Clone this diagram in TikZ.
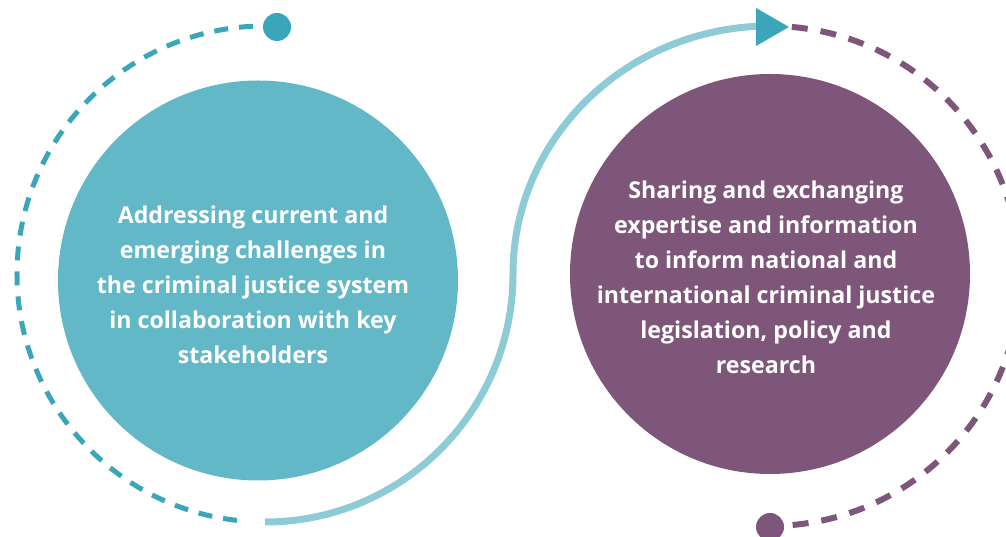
\documentclass[tikz,border=0pt]{standalone}
\usepackage{fontspec}
\setmainfont{Open Sans}
\definecolor{tealdot}{HTML}{3BA6BA}
\definecolor{tealfill}{HTML}{62B8C7}
\definecolor{lightline}{HTML}{8DCBD6}
\definecolor{plum}{HTML}{7D5679}
\tikzset{
  dashline/.style={line width=5pt, dash pattern=on 14pt off 11pt},
  dashlinebig/.style={line width=6pt, dash pattern=on 16pt off 13pt},
  bigcircle/.style={circle, minimum size=400pt, inner sep=0pt, text=white,
    font=\bfseries\fontsize{23.2}{35}\selectfont, align=center},
}
\begin{document}
\begin{tikzpicture}[x=1pt,y=1pt]
\useasboundingbox (0,0) rectangle (1006,537);
% circles
\node[bigcircle, fill=tealfill] (lc) at (258,256.5) {};
\node[bigcircle, fill=plum] (rc) at (770,263) {};
% left dashed arc
\draw[dashline, tealdot] (265,263) ++(87:248) arc[start angle=87, end angle=266, radius=248];
\fill[tealdot] (277,510) circle[radius=14];
% right dashed arc
\draw[dashlinebig, plum] (770,261) ++(85:250) arc[start angle=85, end angle=-87, radius=250];
\fill[plum] (770,10) circle[radius=14];
% solid S-curve
\draw[lightline, line width=7pt] (265,15) arc[start angle=270, end angle=360, radius=248]
  arc[start angle=180, end angle=93, x radius=257, y radius=248];
\fill[tealdot] (756,529) -- (789,510) -- (756,491) -- cycle;
% texts
\node[bigcircle] (lt) at (253,252) {Addressing current and\\emerging challenges in\\the criminal justice system\\in collaboration with key\\stakeholders};
\node[bigcircle] (rt) at (766,260) {Sharing and exchanging\\expertise and information\\to inform national and\\international criminal justice\\legislation, policy and\\research};
\end{tikzpicture}
\end{document}
